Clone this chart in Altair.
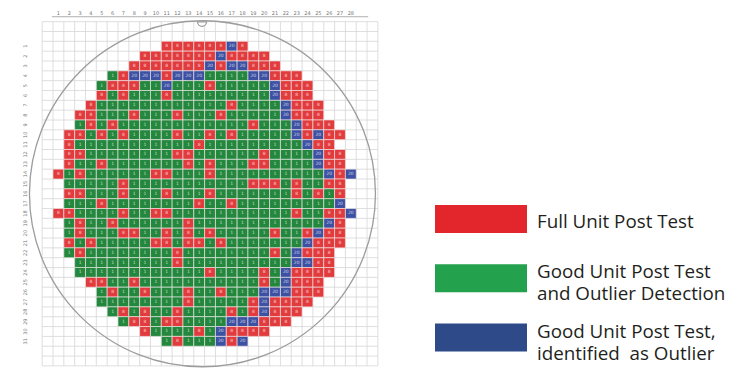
import altair as alt
import pandas as pd

# Wafer bin map: one string per row, one char per column
# R = full unit post test, G = good unit, B = good unit flagged as outlier, . = no die
WAFER_ROWS = [
    "..........RRRRRRBR..........",
    "........RRRRRRRBRRRR........",
    ".......RRRRRRRBRBBRRR.......",
    ".....GRBBBRBBBGGGGBBRRR.....",
    "....GRRRGGBGGGRGGGGGBRRR....",
    "....RGRGGGRGGGGGGGGGBRRR....",
    "...RGGGGGGGGGGGGRGGGGBRRR...",
    "..RRGGGRGGGRGGGRGGGGGBRRR...",
    "..GRGRGGGGGGGGGGGGRGGGBRRR..",
    ".RRGRGRGGGGRGGRGRGGGGGBRBRR.",
    ".RGGGGGGGGGGGRGGGGGGGGGBRR..",
    ".RRGGGGGGGGRRGGGGGGRGGGGBRR.",
    ".RGGRGGGGGGGRGRGGGRRGGGGBRR.",
    "RGRGGGGGGRRGGGRGGGGGGGGGGBRB",
    ".GGGGGRGGGGGGGGGGGRRRGRGGRR.",
    ".RRGGGRGGGRGGGRGGGGGGGRGRGR.",
    ".GGGRGGGGGGGGRGGRGGGGGGGGGB.",
    "RRGGGGRGGRRGGGGGGGGGGGRGGRRB",
    ".GRGGRGGGGGGRGGGGGGGGGGGGBR.",
    ".GRGGGRRGGRGRGRGGGGGRGGRBRR.",
    ".RGRGGGGGRRGRRGRGGGGGGGBRRR.",
    ".GRGGGGGGGGRGGGGGGGGRGBRRR..",
    "..GGGGGGGGGRGGGGGGGGGGBBRR..",
    "..GGGGGGGGGGGGRGGGGRGBRRRR..",
    "...RRGGRGGGGGGGGGGGRGBRRR...",
    "....GRGGRGGGRGGRGGGBBBRRR...",
    "....GGGGGGGGRGGGGGRBRRRR....",
    ".....GRGRGGRGGGGRGRBRRR.....",
    "......GRRGRRGGGGBBBRRR......",
    "........RGGGGRGBRRRR........",
    "..........GRGGGBRB..........",
]

STATUS_CODES = ["R", "G", "B"]
LEGEND_LABELS = [
    "Full Unit Post Test",
    "Good Unit Post Test|and Outlier Detection",
    "Good Unit Post Test,|identified\u00a0 as Outlier",
]
BIN_TEXT = ["8", "1", "20"]
WAFER_COLORS = ["#e23b3d", "#23873d", "#3d51a3"]
LEGEND_COLORS = ["#e2262c", "#23a14c", "#2e4a88"]

COL_LABELS = [str(i + 1) for i in range(28)]
ROW_LABELS = [str(i + 1) for i in range(31)]
GRID_COLS = list(range(-1, 31))
GRID_ROWS = list(range(-2, 34))

# ---- tables built from the arrays ----
cells = []
for r, line in enumerate(WAFER_ROWS):
    for c, ch in enumerate(line):
        if ch in STATUS_CODES:
            i = STATUS_CODES.index(ch)
            cells.append({"col": c, "col2": c + 1, "row": r, "row2": r + 1,
                          "cx": c + 0.5, "cy": r + 0.5,
                          "status": LEGEND_LABELS[i], "bin": BIN_TEXT[i]})
cells_df = pd.DataFrame(cells)

vgrid = pd.DataFrame({"k": GRID_COLS, "y0": -2, "y1": 33})
hgrid = pd.DataFrame({"k": GRID_ROWS, "x0": -1, "x1": 30})
top_lab = pd.DataFrame({"x": [i + 0.5 for i in range(len(COL_LABELS))], "y": -2.85, "t": COL_LABELS})
left_lab = pd.DataFrame({"x": -2.6, "y": [i + 0.5 for i in range(len(ROW_LABELS))], "t": ROW_LABELS})
top_line = pd.DataFrame({"x0": [-0.1], "x1": [29.1], "y": [-2.5]})
wafer_outline = pd.DataFrame({"cx": [13.8], "cy": [15.5]})
notch = pd.DataFrame({"cx": [13.76], "cy": [-1.98]})
legend_df = pd.DataFrame({"i": list(range(len(LEGEND_LABELS))), "status": LEGEND_LABELS})

xs = alt.Scale(domain=[-4.155, 30.194], nice=False, zero=False)
ys = alt.Scale(domain=[-3.388, 33.418], nice=False, zero=False, reverse=True)

grid_v = alt.Chart(vgrid).mark_rule(color="#d6d6d6", strokeWidth=0.8).encode(
    x=alt.X("k:Q", scale=xs, axis=None),
    y=alt.Y("y0:Q", scale=ys, axis=None), y2="y1:Q")
grid_h = alt.Chart(hgrid).mark_rule(color="#d6d6d6", strokeWidth=0.8).encode(
    y=alt.Y("k:Q", scale=ys, axis=None),
    x=alt.X("x0:Q", scale=xs, axis=None), x2="x1:Q")

outline = alt.Chart(wafer_outline).mark_point(
    shape="circle", size=346 * 346, filled=False, color="#9c9c9c",
    strokeWidth=1.3, opacity=1).encode(
    x=alt.X("cx:Q", scale=xs, axis=None), y=alt.Y("cy:Q", scale=ys, axis=None))

notch_mark = alt.Chart(notch).mark_arc(
    radius=4.5, theta=1.5708, theta2=4.7124, fill="white",
    stroke="#9c9c9c", strokeWidth=1.2).encode(
    x=alt.X("cx:Q", scale=xs, axis=None), y=alt.Y("cy:Q", scale=ys, axis=None))

rects = alt.Chart(cells_df).mark_rect(stroke="#f6eeee", strokeWidth=0.6).encode(
    x=alt.X("col:Q", scale=xs, axis=None), x2="col2:Q",
    y=alt.Y("row:Q", scale=ys, axis=None), y2="row2:Q",
    color=alt.Color("status:N", scale=alt.Scale(domain=LEGEND_LABELS, range=WAFER_COLORS), legend=None))

bins = alt.Chart(cells_df).mark_text(fontSize=4.5, color="white", opacity=0.7, font="DejaVu Sans").encode(
    x=alt.X("cx:Q", scale=xs, axis=None), y=alt.Y("cy:Q", scale=ys, axis=None), text="bin:N")

tops = alt.Chart(top_lab).mark_text(fontSize=5, color="#777777", font="DejaVu Sans").encode(
    x=alt.X("x:Q", scale=xs, axis=None), y=alt.Y("y:Q", scale=ys, axis=None), text="t:N")
lefts = alt.Chart(left_lab).mark_text(fontSize=5, color="#777777", angle=270, font="DejaVu Sans").encode(
    x=alt.X("x:Q", scale=xs, axis=None), y=alt.Y("y:Q", scale=ys, axis=None), text="t:N")
topline = alt.Chart(top_line).mark_rule(color="#9a9a9a", strokeWidth=0.8).encode(
    x=alt.X("x0:Q", scale=xs, axis=None), x2="x1:Q", y=alt.Y("y:Q", scale=ys, axis=None))

wafer = alt.layer(grid_v, grid_h, topline, tops, lefts, outline, notch_mark, rects, bins)

# ---- key (legend) drawn as its own layers ----
ly = alt.Y("i:Q", scale=alt.Scale(domain=[0, 2], range=[211, 329.5]), axis=None)
swatches = alt.Chart(legend_df).mark_point(
    shape="M-1,-0.304H1V0.304H-1Z", size=92 * 92, filled=True, opacity=1, strokeWidth=0).encode(
    x=alt.value(473), y=ly,
    color=alt.Color("status:N", scale=alt.Scale(domain=LEGEND_LABELS, range=LEGEND_COLORS), legend=None))
key_text_1 = alt.Chart(legend_df).transform_filter("datum.i == 0").mark_text(
    align="left", baseline="middle", font="Open Sans", fontSize=18.8, color="#231f20",
    lineBreak="|", lineHeight=22, dy=3).encode(x=alt.value(529), y=ly, text="status:N")
key_text_2 = alt.Chart(legend_df).transform_filter("datum.i > 0").mark_text(
    align="left", baseline="middle", font="Open Sans", fontSize=18.8, color="#231f20",
    lineBreak="|", lineHeight=22, dy=-6).encode(x=alt.value(529), y=ly, text="status:N")
key = alt.layer(swatches, key_text_1, key_text_2)

chart = alt.layer(wafer, key).resolve_scale(
    y="independent", color="independent").properties(
    width=372, height=362, padding=0
).configure_view(stroke=None)

chart.save("out.html", embed_options={"renderer": "svg", "actions": False})
